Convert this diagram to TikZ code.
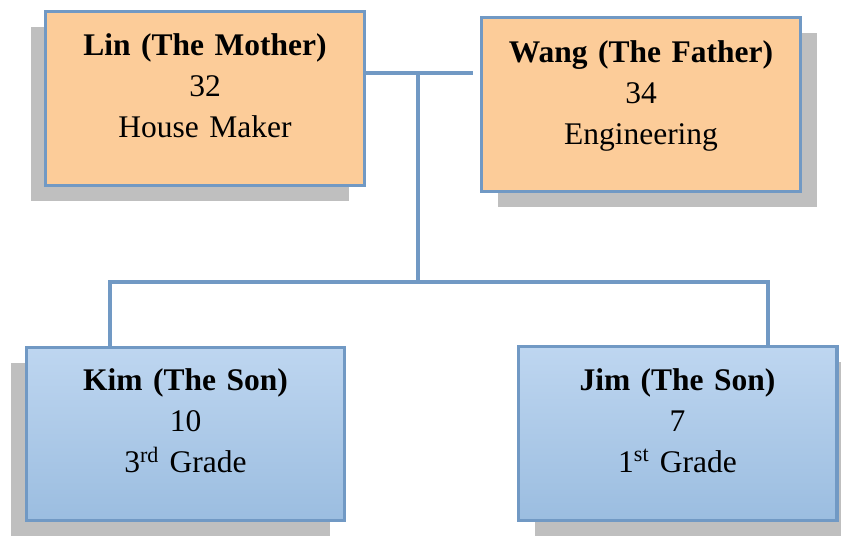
\documentclass[tikz,border=0pt]{standalone}
\usepackage{fontspec}
\setmainfont{Liberation Serif}
\usetikzlibrary{shadows,positioning}
\definecolor{rahmen}{RGB}{113,153,196}
\definecolor{pfirsich}{RGB}{252,204,153}
\definecolor{hellblau}{RGB}{190,214,240}
\definecolor{dunkelblau}{RGB}{155,189,224}

\begin{document}
\begin{tikzpicture}[
	box/.style={rectangle, draw=rahmen, line width=2.4pt, minimum width=7.965cm, minimum height=4.34cm, inner sep=0pt},
	parent/.style={box, fill=pfirsich},
	child/.style={box, top color=hellblau, bottom color=dunkelblau},
	shadowleft/.style={drop shadow={shadow xshift=-0.375cm, shadow yshift=-0.39cm, fill=gray!50, opacity=1}},
	shadowright/.style={drop shadow={shadow xshift=0.41cm, shadow yshift=-0.39cm, fill=gray!50, opacity=1}},
	info/.style={anchor=base, text width=7.6cm, align=center, inner sep=0pt, font=\fontsize{22.4}{29.2}\selectfont},
	tie/.style={draw=rahmen, line width=2.2pt}
	]
	\useasboundingbox (0,0) rectangle (21.025,-13.425);

	\node[parent, shadowleft] (mother) at (5.125,-2.4625) {};
	\node[parent, shadowright] (father) at (16.025,-2.6125) {};
	\node[child, shadowleft] (kim) at (4.6375,-10.85) {};
	\node[child, shadowright] (jim) at (16.9375,-10.8375) {};

	\node[info] (motherinfo) at ([yshift=-1.125cm]mother.north) {\textbf{Lin (The Mother)}\\32\\House Maker};
	\node[info] (fatherinfo) at ([yshift=-1.15cm]father.north) {\textbf{Wang (The Father)}\\34\\Engineering};
	\node[info] (kiminfo) at ([yshift=-1.125cm]kim.north) {\textbf{Kim (The Son)}\\10\\3\textsuperscript{rd} Grade};
	\node[info] (jiminfo) at ([yshift=-1.125cm]jim.north) {\textbf{Jim (The Son)}\\7\\1\textsuperscript{st} Grade};

	\coordinate (heirat) at (10.45,-1.825);
	\coordinate (kimbein) at (2.75,-7.05);
	\coordinate (jimbein) at (19.2,-7.05);

	\draw[tie] (mother.east |- heirat) -- ([xshift=-0.18cm]father.west |- heirat);
	\draw[tie] (heirat) -- (heirat |- kimbein);
	\draw[tie] (kimbein |- kim.north) -- (kimbein) -- (jimbein) -- (jimbein |- jim.north);

\end{tikzpicture}
\end{document}
